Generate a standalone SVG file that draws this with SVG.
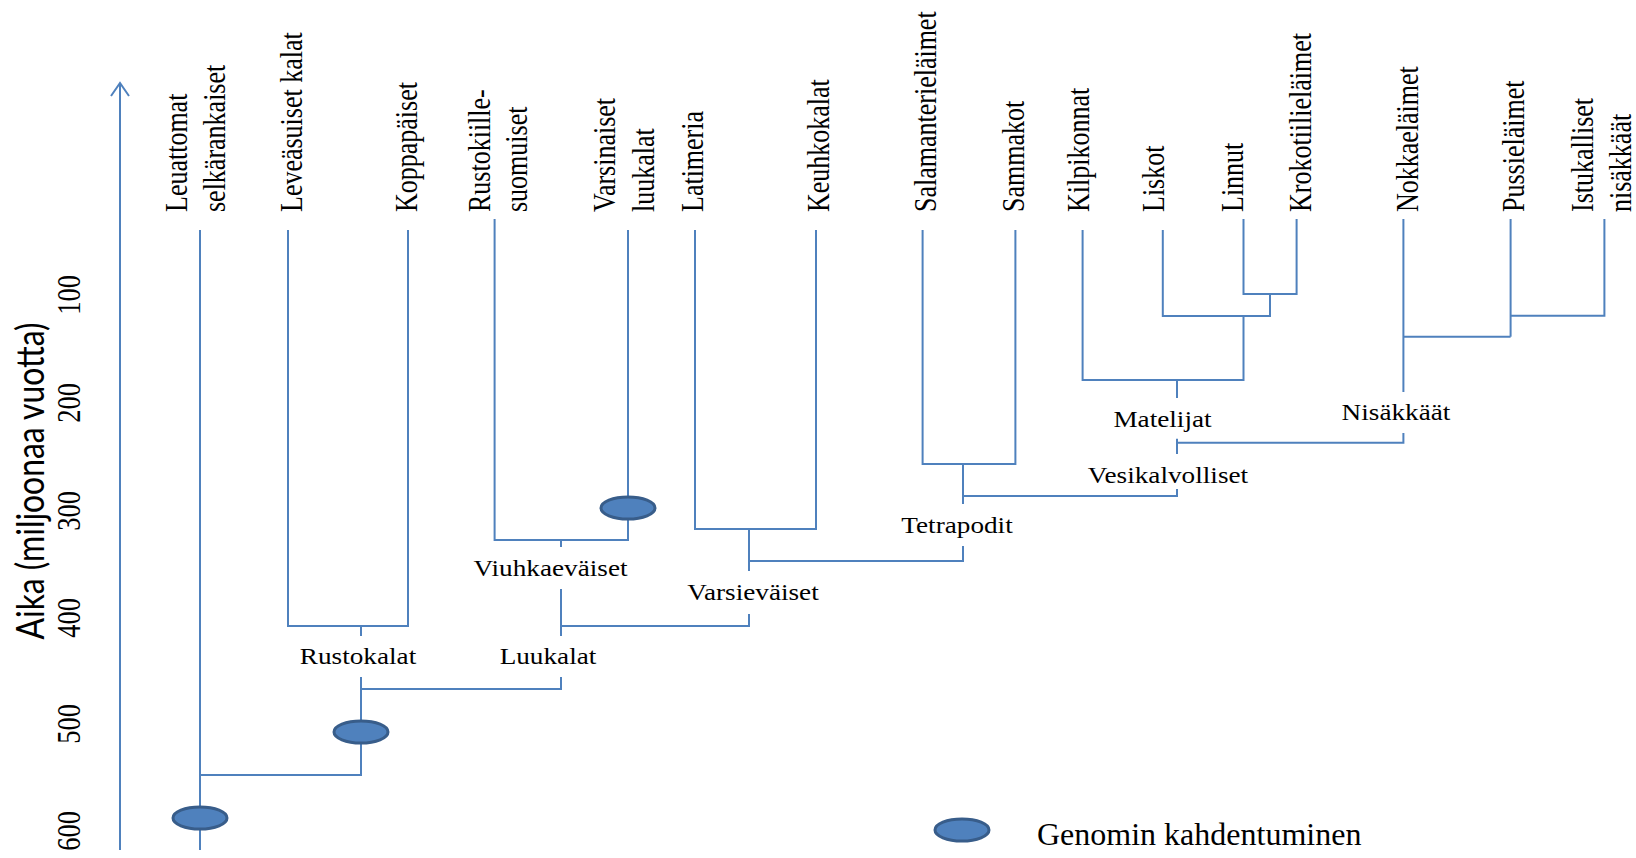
<svg xmlns="http://www.w3.org/2000/svg" width="1636" height="858" viewBox="0 0 1636 858">
<style>
.bg{fill:#ffffff}
.ln{fill:none;stroke:#4F81BD;stroke-width:2;stroke-linecap:butt;stroke-linejoin:miter}
.ov{fill:#4F81BD;stroke:#385D8A;stroke-width:3}
.leaf{font-family:"Liberation Serif","Times New Roman",serif;font-size:26px;fill:#000;text-anchor:start}
.num{font-family:"Liberation Serif","Times New Roman",serif;font-size:26.5px;fill:#000;text-anchor:middle}
.clade{font-family:"Liberation Serif","Times New Roman",serif;font-size:22.5px;fill:#000;text-anchor:middle}
.title{font-family:Lato,"Liberation Sans",Arial,sans-serif;font-size:31.5px;fill:#000;text-anchor:middle}
.legend{font-family:"Liberation Serif","Times New Roman",serif;font-size:32px;fill:#000}
</style>
<defs>
<marker id="arrow" viewBox="0 0 16 20" refX="14" refY="10" markerWidth="16" markerHeight="20" markerUnits="userSpaceOnUse" orient="auto">
<path d="M1,1 L14,10 L1,19" fill="none" stroke="#4F81BD" stroke-width="2"/>
</marker>
</defs>
<rect class="bg" x="0" y="0" width="1636" height="858"/>

<g id="connectors">
<path class="ln" d="M120,850 V83" marker-end="url(#arrow)"/>
<path class="ln" d="M200,230 V850"/>
<path class="ln" d="M288,230 V626 H408 V230"/>
<path class="ln" d="M361,626 V636"/>
<path class="ln" d="M361,677 V775 H200"/>
<path class="ln" d="M361,689 H561 V677"/>
<path class="ln" d="M494.6,219 V540 H628 V230"/>
<path class="ln" d="M561,540 V547"/>
<path class="ln" d="M561,589 V636"/>
<path class="ln" d="M561,626 H749 V614"/>
<path class="ln" d="M695,230 V529 H816 V230"/>
<path class="ln" d="M749,529 V571"/>
<path class="ln" d="M749,561 H963 V546"/>
<path class="ln" d="M922.6,230 V464 H1015.4 V230"/>
<path class="ln" d="M963,464 V504"/>
<path class="ln" d="M963,496 H1177 V489"/>
<path class="ln" d="M1177,438.7 V454"/>
<path class="ln" d="M1177,442.7 H1403.4 V433"/>
<path class="ln" d="M1082.6,230 V380 H1243.5 V316"/>
<path class="ln" d="M1177,380 V398"/>
<path class="ln" d="M1162.8,230 V316 H1270 V294"/>
<path class="ln" d="M1243.5,219 V294 H1296.6 V219"/>
<path class="ln" d="M1403.4,219 V392"/>
<path class="ln" d="M1403.4,336.7 H1510.6"/>
<path class="ln" d="M1510.6,219 V336.7"/>
<path class="ln" d="M1510.6,315.7 H1604.4 V219"/>
</g>

<g id="axis-title">
<text class="title" transform="translate(43.5,481) scale(1.25,1) rotate(-90)" textLength="317" lengthAdjust="spacingAndGlyphs">Aika (miljoonaa vuotta)</text>
</g>
<g id="axis-ticks">
<text class="num" transform="translate(80,295) scale(1.25,1) rotate(-90)">100</text>
<text class="num" transform="translate(80,403) scale(1.25,1) rotate(-90)">200</text>
<text class="num" transform="translate(80,511) scale(1.25,1) rotate(-90)">300</text>
<text class="num" transform="translate(80,618) scale(1.25,1) rotate(-90)">400</text>
<text class="num" transform="translate(80,724) scale(1.25,1) rotate(-90)">500</text>
<text class="num" transform="translate(80,831) scale(1.25,1) rotate(-90)">600</text>
</g>

<g id="leaf-leuattomat">
<text class="leaf" transform="translate(186.5,212) scale(1.25,1) rotate(-90)">Leuattomat</text>
<text class="leaf" transform="translate(225,212) scale(1.25,1) rotate(-90)">selkärankaiset</text>
</g>
<g id="leaf-leveasuiset">
<text class="leaf" transform="translate(302,212) scale(1.25,1) rotate(-90)">Leveäsuiset kalat</text>
</g>
<g id="leaf-koppapaiset">
<text class="leaf" transform="translate(416.5,212) scale(1.25,1) rotate(-90)">Koppapäiset</text>
</g>
<g id="leaf-rustokiille">
<text class="leaf" transform="translate(489.7,212) scale(1.25,1) rotate(-90)">Rustokiille-</text>
<text class="leaf" transform="translate(527,212) scale(1.25,1) rotate(-90)">suomuiset</text>
</g>
<g id="leaf-varsinaiset">
<text class="leaf" transform="translate(615,212) scale(1.25,1) rotate(-90)">Varsinaiset</text>
<text class="leaf" transform="translate(654,212) scale(1.25,1) rotate(-90)">luukalat</text>
</g>
<g id="leaf-latimeria">
<text class="leaf" transform="translate(703,212) scale(1.25,1) rotate(-90)">Latimeria</text>
</g>
<g id="leaf-keuhkokalat">
<text class="leaf" transform="translate(829,212) scale(1.25,1) rotate(-90)">Keuhkokalat</text>
</g>
<g id="leaf-salamanterielaimet">
<text class="leaf" transform="translate(936,212) scale(1.25,1) rotate(-90)">Salamanterieläimet</text>
</g>
<g id="leaf-sammakot">
<text class="leaf" transform="translate(1024,212) scale(1.25,1) rotate(-90)">Sammakot</text>
</g>
<g id="leaf-kilpikonnat">
<text class="leaf" transform="translate(1089,212) scale(1.25,1) rotate(-90)">Kilpikonnat</text>
</g>
<g id="leaf-liskot">
<text class="leaf" transform="translate(1164,212) scale(1.25,1) rotate(-90)">Liskot</text>
</g>
<g id="leaf-linnut">
<text class="leaf" transform="translate(1243,212) scale(1.25,1) rotate(-90)">Linnut</text>
</g>
<g id="leaf-krokotiilielaimet">
<text class="leaf" transform="translate(1311,212) scale(1.25,1) rotate(-90)">Krokotiilieläimet</text>
</g>
<g id="leaf-nokkaelaimet">
<text class="leaf" transform="translate(1418,212) scale(1.25,1) rotate(-90)">Nokkaeläimet</text>
</g>
<g id="leaf-pussielaimet">
<text class="leaf" transform="translate(1524,212) scale(1.25,1) rotate(-90)">Pussieläimet</text>
</g>
<g id="leaf-istukalliset">
<text class="leaf" transform="translate(1593,212) scale(1.25,1) rotate(-90)">Istukalliset</text>
<text class="leaf" transform="translate(1631,212) scale(1.25,1) rotate(-90)">nisäkkäät</text>
</g>

<g id="clade-rustokalat"><text class="clade" transform="translate(358,664) scale(1.21,1)">Rustokalat</text></g>
<g id="clade-luukalat"><text class="clade" transform="translate(548,664) scale(1.21,1)">Luukalat</text></g>
<g id="clade-viuhkaevaiset"><text class="clade" transform="translate(550.5,576) scale(1.21,1)">Viuhkaeväiset</text></g>
<g id="clade-varsievaiset"><text class="clade" transform="translate(753,600) scale(1.21,1)">Varsieväiset</text></g>
<g id="clade-tetrapodit"><text class="clade" transform="translate(957,533) scale(1.21,1)">Tetrapodit</text></g>
<g id="clade-vesikalvolliset"><text class="clade" transform="translate(1168,483) scale(1.21,1)">Vesikalvolliset</text></g>
<g id="clade-matelijat"><text class="clade" transform="translate(1162.5,427) scale(1.21,1)">Matelijat</text></g>
<g id="clade-nisakkaat"><text class="clade" transform="translate(1396,420) scale(1.21,1)">Nisäkkäät</text></g>

<g id="duplication-root"><ellipse class="ov" cx="200" cy="818" rx="27" ry="11"/></g>
<g id="duplication-jawed"><ellipse class="ov" cx="361" cy="732" rx="27" ry="11"/></g>
<g id="duplication-teleost"><ellipse class="ov" cx="628" cy="508" rx="27" ry="11"/></g>

<g id="legend">
<ellipse class="ov" cx="962" cy="830" rx="27" ry="11"/>
<text class="legend" x="1037" y="845">Genomin kahdentuminen</text>
</g>
</svg>
